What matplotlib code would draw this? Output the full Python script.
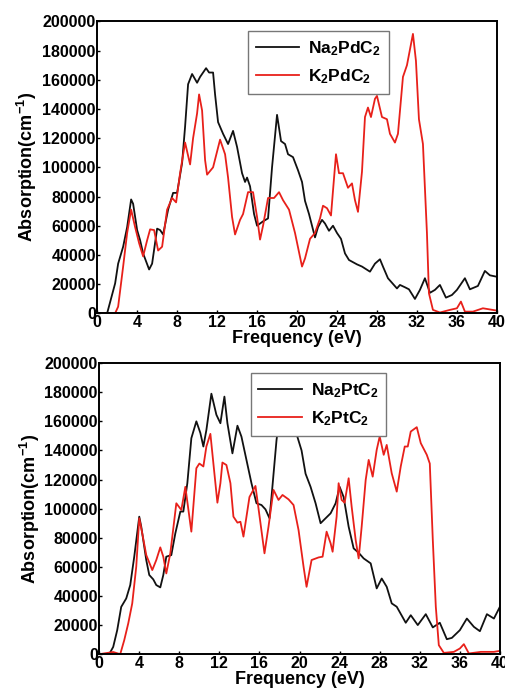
import numpy as np
import matplotlib
matplotlib.use('Agg')
import matplotlib.pyplot as plt

#************ data **************************************
# top panel: Na2PdC2 / K2PdC2
e_na_pd = [0, 1.0, 1.8, 2.1, 2.6, 3.0, 3.4, 3.6, 4.0, 4.3, 4.6, 5.2, 5.5, 6.0, 6.3, 6.6, 7.1, 7.6, 8.0,
           8.5, 8.8, 9.1, 9.5, 10.0, 10.3, 10.9, 11.2, 11.6, 11.8, 12.1, 12.6, 13.1, 13.6, 14.0, 14.5,
           14.8, 15.0, 15.3, 15.7, 16.0, 16.6, 17.1, 17.5, 18.0, 18.4, 18.8, 19.1, 19.6, 20.1, 20.5,
           20.8, 21.2, 21.8, 22.1, 22.5, 22.8, 23.2, 23.6, 24.0, 24.4, 24.8, 25.2, 26.0, 26.5, 27.3,
           27.8, 28.3, 28.6, 29.1, 30.0, 30.3, 30.8, 31.2, 31.8, 32.3, 32.8, 33.3, 33.8, 34.3, 34.9,
           35.5, 36.0, 36.8, 37.3, 38.1, 38.8, 39.3, 40.0]
a_na_pd = [0, 0, 20500, 34000, 45600, 59000, 78000, 75000, 57000, 50000, 41000, 30000, 34000, 58000,
           57000, 54000, 71000, 82500, 82500, 103000, 128000, 157000, 164000, 158000, 162000, 168000,
           165000, 165000, 150000, 131000, 123000, 116000, 125000, 114000, 96000, 90000, 93000, 87000,
           68000, 60000, 63000, 65000, 100000, 136000, 118000, 116000, 109000, 107000, 98000, 90000,
           77000, 68000, 52000, 59000, 64000, 61500, 56500, 60000, 55000, 51000, 41000, 36500, 33500,
           32000, 28500, 34000, 37000, 32000, 24000, 17000, 19400, 17800, 16400, 9800, 16000, 24000,
           14000, 16000, 19400, 10700, 12500, 16000, 24000, 16400, 18700, 29000, 26000, 25000]

e_k_pd = [0, 1.8, 2.1, 2.6, 3.0, 3.4, 3.8, 4.2, 4.6, 5.0, 5.3, 5.7, 6.1, 6.5, 7.0, 7.5, 7.9, 8.3, 8.8,
          9.3, 9.6, 10.0, 10.2, 10.5, 10.8, 11.0, 11.6, 12.3, 12.8, 13.1, 13.5, 13.8, 14.3, 14.6, 15.1,
          15.6, 16.0, 16.3, 16.6, 17.1, 17.7, 18.2, 18.6, 19.2, 19.8, 20.5, 20.8, 21.3, 21.8, 22.3,
          22.6, 23.0, 23.4, 23.6, 23.9, 24.2, 24.6, 25.1, 25.5, 25.8, 26.1, 26.5, 26.8, 27.1, 27.4,
          27.8, 28.0, 28.5, 29.0, 29.3, 29.8, 30.1, 30.6, 31.0, 31.6, 31.9, 32.2, 32.6, 33.0, 33.2,
          33.6, 34.3, 35.3, 36.0, 36.4, 36.8, 37.6, 38.6, 40.0]
a_k_pd = [0, 0, 4500, 32000, 55000, 71000, 59000, 48000, 39000, 50000, 57500, 57000, 43000, 45600,
          71000, 79000, 76000, 96000, 117000, 102000, 120000, 137000, 150000, 139000, 105000, 95000,
          100000, 119000, 109000, 93000, 66000, 54000, 64000, 68000, 83000, 83000, 66000, 50500, 60000,
          79000, 79000, 83000, 77500, 71000, 55000, 32000, 37600, 51000, 55000, 65000, 73700, 72000,
          67000, 84000, 109000, 96000, 96000, 86000, 89000, 77500, 69500, 97000, 134500, 141000,
          134500, 147000, 149000, 134500, 133000, 123000, 117000, 123000, 162000, 170000, 191500,
          173000, 133000, 116000, 55000, 13700, 2300, 500, 2300, 3400, 8000, 1100, 1100, 3400, 1800]

# bottom panel: Na2PtC2 / K2PtC2
e_na_pt = [0, 1.0, 1.4, 1.8, 2.2, 2.7, 3.1, 3.5, 4.0, 4.2, 4.7, 5.0, 5.4, 5.7, 6.1, 6.4, 6.7, 7.2, 7.6,
           8.1, 8.4, 8.8, 9.2, 9.7, 10.1, 10.4, 10.7, 11.2, 11.7, 12.1, 12.5, 12.8, 13.3, 13.8, 14.2,
           14.7, 15.2, 15.7, 16.2, 16.6, 17.0, 17.2, 17.7, 18.3, 18.9, 19.8, 20.2, 20.6, 21.1, 21.6,
           22.1, 22.6, 23.1, 23.6, 24.0, 24.4, 24.9, 25.4, 25.9, 26.4, 27.1, 27.7, 28.2, 28.7, 29.2,
           29.7, 30.6, 31.1, 31.8, 32.6, 33.3, 34.0, 34.7, 35.2, 36.0, 36.7, 37.4, 38.0, 38.7, 39.4, 40.0]
a_na_pt = [0, 0, 5000, 16500, 32500, 38300, 47500, 67000, 94500, 87600, 64700, 54400, 51400, 47500,
           45900, 54400, 67000, 68100, 83000, 98000, 98000, 117500, 148400, 160000, 152000, 142700,
           154000, 179000, 164500, 158700, 177000, 158700, 138000, 157000, 149500, 133500, 117500,
           103700, 102500, 99500, 93400, 108000, 147000, 180000, 172000, 149000, 140000, 124000,
           115000, 103700, 90000, 93400, 96800, 103700, 115000, 108000, 87600, 72700, 69700, 65800,
           62400, 45200, 52000, 46300, 34900, 32600, 21600, 26800, 20000, 27500, 18400, 21600, 10300,
           11200, 16500, 24500, 18800, 15800, 27500, 24500, 32600]

e_k_pt = [0, 1.4, 2.1, 2.5, 2.9, 3.3, 3.7, 4.0, 4.3, 4.7, 5.3, 5.7, 6.1, 6.4, 6.7, 7.1, 7.7, 8.2, 8.6,
          9.2, 9.7, 10.0, 10.4, 10.7, 11.1, 11.5, 11.8, 12.1, 12.3, 12.7, 13.1, 13.4, 13.8, 14.1, 14.4,
          15.0, 15.6, 16.1, 16.5, 16.9, 17.4, 17.9, 18.3, 18.9, 19.4, 19.9, 20.4, 20.7, 21.2, 21.9,
          22.3, 22.7, 23.1, 23.3, 23.7, 23.9, 24.2, 24.5, 24.9, 25.2, 25.6, 25.9, 26.2, 26.6, 26.9,
          27.3, 27.7, 28.0, 28.4, 28.7, 29.2, 29.7, 30.1, 30.5, 30.8, 31.1, 31.7, 32.1, 32.7, 33.0,
          33.3, 33.6, 33.9, 34.4, 35.4, 36.0, 36.4, 36.9, 38.1, 39.4, 40.0]
a_k_pt = [0, 1500, 0, 9600, 21100, 34900, 60100, 93400, 83000, 68100, 57800, 64700, 73400, 67000,
          55500, 69300, 103700, 99100, 115000, 84200, 127800, 131000, 129000, 142700, 151400, 124300,
          104100, 117500, 131700, 130000, 117500, 94500, 90400, 91000, 80800, 108000, 115600, 90000,
          69300, 87600, 112900, 106000, 109400, 106400, 102500, 85300, 60100, 46300, 64700, 66500,
          67000, 84200, 76200, 70400, 94500, 117500, 106000, 104100, 120900, 101400, 78500, 65800,
          87600, 119700, 133500, 122000, 140400, 149600, 137000, 143800, 124300, 111700, 129000,
          142700, 142700, 153000, 156000, 145000, 137000, 131000, 78500, 32600, 6200, 900, 1600, 3900,
          6900, 500, 1600, 1600, 2300]

panels = [
	(e_na_pd, a_na_pd, e_k_pd, a_k_pd, r'Na$_2$PdC$_2$', r'K$_2$PdC$_2$', [0.192, 0.548, 0.790, 0.421]),
	(e_na_pt, a_na_pt, e_k_pt, a_k_pt, r'Na$_2$PtC$_2$', r'K$_2$PtC$_2$', [0.196, 0.056, 0.792, 0.420]),
]
#************ end of data ******************

plt.rcParams['font.family'] = ['Liberation Sans', 'DejaVu Sans']
plt.rcParams['font.weight'] = 'bold'
plt.rcParams['mathtext.fontset'] = 'custom'
plt.rcParams['mathtext.rm'] = 'Liberation Sans:bold'
plt.rcParams['mathtext.it'] = 'Liberation Sans:bold'
plt.rcParams['mathtext.bf'] = 'Liberation Sans:bold'

fig = plt.figure(figsize=(5.06, 6.93), dpi=100)

for e1, a1, e2, a2, lab1, lab2, rect in panels:
	ax = fig.add_axes(rect)
	ax.plot(e1, a1, color='#111111', lw=1.3, label=lab1)
	ax.plot(e2, a2, color='#e8201a', lw=1.3, label=lab2)
	ax.set_xlim(0, 40)
	ax.set_ylim(0, 200000)
	ax.set_xticks(np.arange(0, 41, 4))
	ax.set_yticks(np.arange(0, 200001, 20000))
	ax.tick_params(direction='in', length=2, width=1, labelsize=11.5, pad=1)
	for s in ax.spines.values():
		s.set_linewidth(1.4)
	ax.set_xlabel('Frequency (eV)', fontsize=13, fontweight='bold', labelpad=0)
	ax.set_ylabel(r'Absorption(cm$^{-1}$)', fontsize=13, fontweight='bold', labelpad=2)
	leg = ax.legend(loc='upper left', bbox_to_anchor=(0.378, 0.966), borderaxespad=0,
					fontsize=12.5, handlelength=2.5, fancybox=False, framealpha=1,
					edgecolor='#777777', borderpad=0.45, labelspacing=0.55, handletextpad=0.5)
	leg.get_frame().set_linewidth(1.0)

fig.savefig('out.png', dpi=100)
